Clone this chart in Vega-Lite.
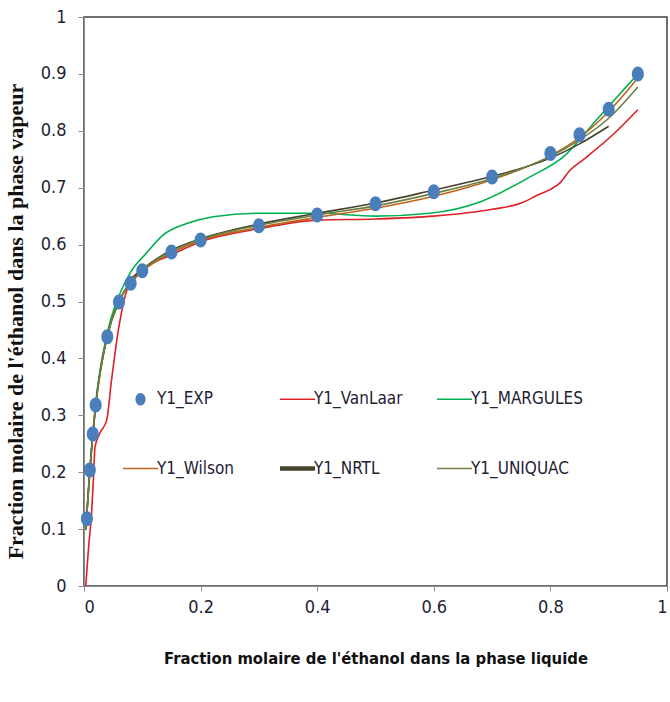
{
  "$schema": "https://vega.github.io/schema/vega-lite/v6.json",
  "width": 583,
  "height": 569,
  "autosize": "none",
  "padding": {"left": 84, "top": 17, "right": 3, "bottom": 116},
  "background": "white",
  "config": {
    "view": {"stroke": "#404040", "strokeWidth": 1.5},
    "axis": {
      "grid": false,
      "domainColor": "#8c8c8c",
      "tickColor": "#8c8c8c",
      "labelFont": "DejaVu Sans Condensed, Liberation Sans Narrow, sans-serif",
      "labelFontSize": 18,
      "labelColor": "#1f2233",
      "titleColor": "#111111"
    }
  },
  "data": {
    "values": [
      {"series": "Y1_EXP", "x": 0.005, "y": 0.118},
      {"series": "Y1_EXP", "x": 0.01, "y": 0.204},
      {"series": "Y1_EXP", "x": 0.015, "y": 0.267},
      {"series": "Y1_EXP", "x": 0.02, "y": 0.318},
      {"series": "Y1_EXP", "x": 0.04, "y": 0.438},
      {"series": "Y1_EXP", "x": 0.06, "y": 0.499},
      {"series": "Y1_EXP", "x": 0.08, "y": 0.532},
      {"series": "Y1_EXP", "x": 0.1, "y": 0.554},
      {"series": "Y1_EXP", "x": 0.15, "y": 0.587},
      {"series": "Y1_EXP", "x": 0.2, "y": 0.608},
      {"series": "Y1_EXP", "x": 0.3, "y": 0.633},
      {"series": "Y1_EXP", "x": 0.4, "y": 0.652},
      {"series": "Y1_EXP", "x": 0.5, "y": 0.672},
      {"series": "Y1_EXP", "x": 0.6, "y": 0.693},
      {"series": "Y1_EXP", "x": 0.7, "y": 0.719},
      {"series": "Y1_EXP", "x": 0.8, "y": 0.76},
      {"series": "Y1_EXP", "x": 0.85, "y": 0.793},
      {"series": "Y1_EXP", "x": 0.9, "y": 0.838},
      {"series": "Y1_EXP", "x": 0.95, "y": 0.9},

      {"series": "Y1_VanLaar", "x": 0.003, "y": 0.0},
      {"series": "Y1_VanLaar", "x": 0.008, "y": 0.07},
      {"series": "Y1_VanLaar", "x": 0.013, "y": 0.128},
      {"series": "Y1_VanLaar", "x": 0.016, "y": 0.186},
      {"series": "Y1_VanLaar", "x": 0.019, "y": 0.245},
      {"series": "Y1_VanLaar", "x": 0.027, "y": 0.268},
      {"series": "Y1_VanLaar", "x": 0.039, "y": 0.292},
      {"series": "Y1_VanLaar", "x": 0.047, "y": 0.36},
      {"series": "Y1_VanLaar", "x": 0.059, "y": 0.45},
      {"series": "Y1_VanLaar", "x": 0.079, "y": 0.535},
      {"series": "Y1_VanLaar", "x": 0.1, "y": 0.556},
      {"series": "Y1_VanLaar", "x": 0.15, "y": 0.582},
      {"series": "Y1_VanLaar", "x": 0.2, "y": 0.605},
      {"series": "Y1_VanLaar", "x": 0.3, "y": 0.628},
      {"series": "Y1_VanLaar", "x": 0.4, "y": 0.643},
      {"series": "Y1_VanLaar", "x": 0.5, "y": 0.645},
      {"series": "Y1_VanLaar", "x": 0.6, "y": 0.65},
      {"series": "Y1_VanLaar", "x": 0.7, "y": 0.662},
      {"series": "Y1_VanLaar", "x": 0.75, "y": 0.673},
      {"series": "Y1_VanLaar", "x": 0.78, "y": 0.688},
      {"series": "Y1_VanLaar", "x": 0.8, "y": 0.697},
      {"series": "Y1_VanLaar", "x": 0.816, "y": 0.708},
      {"series": "Y1_VanLaar", "x": 0.834, "y": 0.731},
      {"series": "Y1_VanLaar", "x": 0.856, "y": 0.749},
      {"series": "Y1_VanLaar", "x": 0.907, "y": 0.793},
      {"series": "Y1_VanLaar", "x": 0.95, "y": 0.837},

      {"series": "Y1_MARGULES", "x": 0.003, "y": 0.098},
      {"series": "Y1_MARGULES", "x": 0.01, "y": 0.2},
      {"series": "Y1_MARGULES", "x": 0.02, "y": 0.32},
      {"series": "Y1_MARGULES", "x": 0.04, "y": 0.445},
      {"series": "Y1_MARGULES", "x": 0.06, "y": 0.51},
      {"series": "Y1_MARGULES", "x": 0.079, "y": 0.55},
      {"series": "Y1_MARGULES", "x": 0.107, "y": 0.585},
      {"series": "Y1_MARGULES", "x": 0.136, "y": 0.617},
      {"series": "Y1_MARGULES", "x": 0.176, "y": 0.637},
      {"series": "Y1_MARGULES", "x": 0.222, "y": 0.649},
      {"series": "Y1_MARGULES", "x": 0.3, "y": 0.655},
      {"series": "Y1_MARGULES", "x": 0.4, "y": 0.655},
      {"series": "Y1_MARGULES", "x": 0.5, "y": 0.65},
      {"series": "Y1_MARGULES", "x": 0.593, "y": 0.655},
      {"series": "Y1_MARGULES", "x": 0.679, "y": 0.675},
      {"series": "Y1_MARGULES", "x": 0.765, "y": 0.719},
      {"series": "Y1_MARGULES", "x": 0.822, "y": 0.754},
      {"series": "Y1_MARGULES", "x": 0.879, "y": 0.819},
      {"series": "Y1_MARGULES", "x": 0.95, "y": 0.9},

      {"series": "Y1_Wilson", "x": 0.003, "y": 0.1},
      {"series": "Y1_Wilson", "x": 0.01, "y": 0.2},
      {"series": "Y1_Wilson", "x": 0.02, "y": 0.315},
      {"series": "Y1_Wilson", "x": 0.04, "y": 0.44},
      {"series": "Y1_Wilson", "x": 0.06, "y": 0.5},
      {"series": "Y1_Wilson", "x": 0.08, "y": 0.532},
      {"series": "Y1_Wilson", "x": 0.1, "y": 0.553},
      {"series": "Y1_Wilson", "x": 0.15, "y": 0.585},
      {"series": "Y1_Wilson", "x": 0.2, "y": 0.607},
      {"series": "Y1_Wilson", "x": 0.3, "y": 0.63},
      {"series": "Y1_Wilson", "x": 0.4, "y": 0.648},
      {"series": "Y1_Wilson", "x": 0.5, "y": 0.664},
      {"series": "Y1_Wilson", "x": 0.6, "y": 0.685},
      {"series": "Y1_Wilson", "x": 0.7, "y": 0.714},
      {"series": "Y1_Wilson", "x": 0.8, "y": 0.756},
      {"series": "Y1_Wilson", "x": 0.85, "y": 0.788},
      {"series": "Y1_Wilson", "x": 0.9, "y": 0.834},
      {"series": "Y1_Wilson", "x": 0.95, "y": 0.893},

      {"series": "Y1_NRTL", "x": 0.003, "y": 0.1},
      {"series": "Y1_NRTL", "x": 0.01, "y": 0.205},
      {"series": "Y1_NRTL", "x": 0.02, "y": 0.318},
      {"series": "Y1_NRTL", "x": 0.04, "y": 0.44},
      {"series": "Y1_NRTL", "x": 0.06, "y": 0.5},
      {"series": "Y1_NRTL", "x": 0.08, "y": 0.535},
      {"series": "Y1_NRTL", "x": 0.1, "y": 0.556},
      {"series": "Y1_NRTL", "x": 0.15, "y": 0.59},
      {"series": "Y1_NRTL", "x": 0.2, "y": 0.61},
      {"series": "Y1_NRTL", "x": 0.3, "y": 0.636},
      {"series": "Y1_NRTL", "x": 0.4, "y": 0.655},
      {"series": "Y1_NRTL", "x": 0.5, "y": 0.673},
      {"series": "Y1_NRTL", "x": 0.6, "y": 0.696},
      {"series": "Y1_NRTL", "x": 0.7, "y": 0.72},
      {"series": "Y1_NRTL", "x": 0.8, "y": 0.752},
      {"series": "Y1_NRTL", "x": 0.85, "y": 0.777},
      {"series": "Y1_NRTL", "x": 0.9, "y": 0.808},

      {"series": "Y1_UNIQUAC", "x": 0.003, "y": 0.1},
      {"series": "Y1_UNIQUAC", "x": 0.01, "y": 0.203},
      {"series": "Y1_UNIQUAC", "x": 0.02, "y": 0.316},
      {"series": "Y1_UNIQUAC", "x": 0.04, "y": 0.44},
      {"series": "Y1_UNIQUAC", "x": 0.06, "y": 0.5},
      {"series": "Y1_UNIQUAC", "x": 0.08, "y": 0.533},
      {"series": "Y1_UNIQUAC", "x": 0.1, "y": 0.555},
      {"series": "Y1_UNIQUAC", "x": 0.15, "y": 0.588},
      {"series": "Y1_UNIQUAC", "x": 0.2, "y": 0.609},
      {"series": "Y1_UNIQUAC", "x": 0.3, "y": 0.634},
      {"series": "Y1_UNIQUAC", "x": 0.4, "y": 0.652},
      {"series": "Y1_UNIQUAC", "x": 0.5, "y": 0.668},
      {"series": "Y1_UNIQUAC", "x": 0.6, "y": 0.69},
      {"series": "Y1_UNIQUAC", "x": 0.7, "y": 0.716},
      {"series": "Y1_UNIQUAC", "x": 0.8, "y": 0.755},
      {"series": "Y1_UNIQUAC", "x": 0.85, "y": 0.784},
      {"series": "Y1_UNIQUAC", "x": 0.9, "y": 0.822},
      {"series": "Y1_UNIQUAC", "x": 0.95, "y": 0.877}
    ]
  },
  "encoding": {
    "x": {
      "field": "x", "type": "quantitative",
      "scale": {"domain": [0, 1], "nice": false},
      "axis": {
        "values": [0, 0.2, 0.4, 0.6, 0.8, 1],
        "format": ".1~f",
        "tickSize": 5,
        "labelPadding": 7,
        "title": "Fraction molaire de l'éthanol dans la phase liquide",
        "titleFont": "DejaVu Sans Condensed, Liberation Sans Narrow, sans-serif",
        "titleFontSize": 16.5,
        "titleFontWeight": "bold",
        "titlePadding": 34
      }
    },
    "y": {
      "field": "y", "type": "quantitative",
      "scale": {"domain": [0, 1], "nice": false},
      "axis": {
        "values": [0, 0.1, 0.2, 0.3, 0.4, 0.5, 0.6, 0.7, 0.8, 0.9, 1],
        "format": ".1~f",
        "tickSize": 6,
        "labelPadding": 12,
        "title": "Fraction molaire de  l'éthanol dans  la phase vapeur",
        "titleFont": "Liberation Serif, DejaVu Serif, serif",
        "titleFontSize": 22,
        "titleFontWeight": "bold",
        "titlePadding": 13,
        "titleLimit": 1000,
        "titleY": 304
      }
    },
    "color": {
      "field": "series", "type": "nominal",
      "scale": {
        "domain": ["Y1_EXP", "Y1_VanLaar", "Y1_MARGULES", "Y1_Wilson", "Y1_NRTL", "Y1_UNIQUAC"],
        "range": ["#4A7EBB", "#DD2027", "#00B050", "#C0651E", "#45432B", "#6E8043"]
      },
      "legend": {
        "title": null,
        "orient": "none",
        "legendX": 48,
        "legendY": 373,
        "columns": 3,
        "direction": "horizontal",
        "gridAlign": "all",
        "columnPadding": 2,
        "rowPadding": 51,
        "padding": 0,
        "symbolSize": 1225,
        "symbolType": "stroke",
        "labelOffset": 8,
        "labelFont": "DejaVu Sans Condensed, Liberation Sans Narrow, sans-serif",
        "labelFontSize": 17,
        "labelColor": "#1f2233",
        "labelLimit": 300,
        "encode": {
          "symbols": {
            "update": {
              "shape": {"signal": "datum.value === 'Y1_EXP' ? 'M-0.8,0A0.8,1 0 1,0 0.8,0A0.8,1 0 1,0 -0.8,0Z' : 'stroke'"},
              "size": {"signal": "datum.value === 'Y1_EXP' ? 160 : 1225"},
              "strokeWidth": {"signal": "datum.value === 'Y1_NRTL' ? 4.5 : (datum.value === 'Y1_EXP' ? 0 : 1.6)"},
              "fill": {"signal": "datum.value === 'Y1_EXP' ? '#4A7EBB' : 'transparent'"},
              "stroke": {"signal": "scale('color', datum.value)"},
              "opacity": {"value": 1}
            }
          }
        }
      }
    }
  },
  "layer": [
    {
      "transform": [{"filter": "datum.series !== 'Y1_EXP'"}],
      "mark": {"type": "line", "interpolate": "monotone"},
      "encoding": {
        "strokeWidth": {
          "field": "series", "type": "nominal",
          "scale": {
            "domain": ["Y1_VanLaar", "Y1_MARGULES", "Y1_Wilson", "Y1_NRTL", "Y1_UNIQUAC"],
            "range": [1.6, 1.6, 1.6, 4.5, 1.6]
          },
          "legend": null
        }
      }
    },
    {
      "transform": [{"filter": "datum.series === 'Y1_EXP'"}],
      "mark": {
        "type": "point", "filled": true, "opacity": 1,
        "shape": "M-0.8,0A0.8,1 0 1,0 0.8,0A0.8,1 0 1,0 -0.8,0Z",
        "size": 225
      }
    }
  ]
}
